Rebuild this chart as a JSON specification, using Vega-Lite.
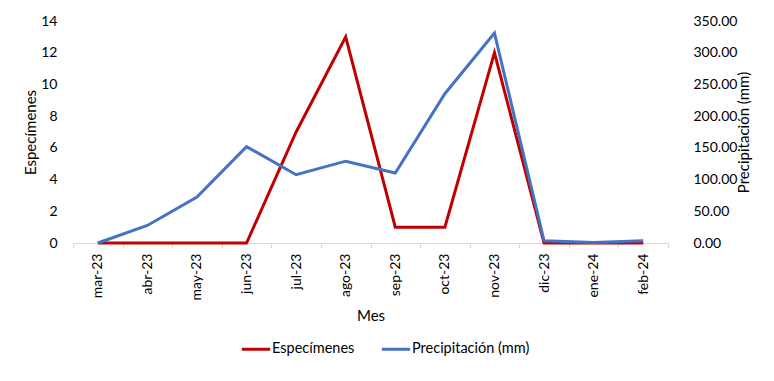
{
  "$schema": "https://vega.github.io/schema/vega-lite/v6.json",
  "width": 595,
  "height": 222,
  "autosize": "none",
  "padding": {"left": 73, "top": 21, "right": 106, "bottom": 138},
  "background": "white",
  "config": {
    "view": {"stroke": null},
    "font": "Lato",
    "axis": {"labelFont": "Lato", "titleFont": "Lato", "labelColor": "#000000", "titleColor": "#000000", "labelFontSize": 14, "titleFontSize": 15, "titleFontWeight": "normal", "grid": false}
  },
  "data": {
    "values": [
      {"Mes": "mar-23", "Especimenes": 0, "Precipitacion": 0},
      {"Mes": "abr-23", "Especimenes": 0, "Precipitacion": 27.7},
      {"Mes": "may-23", "Especimenes": 0, "Precipitacion": 72.5},
      {"Mes": "jun-23", "Especimenes": 0, "Precipitacion": 152},
      {"Mes": "jul-23", "Especimenes": 7, "Precipitacion": 107.7},
      {"Mes": "ago-23", "Especimenes": 13, "Precipitacion": 129},
      {"Mes": "sep-23", "Especimenes": 1, "Precipitacion": 110.4},
      {"Mes": "oct-23", "Especimenes": 1, "Precipitacion": 235.4},
      {"Mes": "nov-23", "Especimenes": 12, "Precipitacion": 331},
      {"Mes": "dic-23", "Especimenes": 0, "Precipitacion": 3.5},
      {"Mes": "ene-24", "Especimenes": 0, "Precipitacion": 0.8},
      {"Mes": "feb-24", "Especimenes": 0, "Precipitacion": 3.5}
    ]
  },
  "encoding": {
    "x": {
      "field": "Mes",
      "type": "ordinal",
      "sort": null,
      "scale": {"type": "band", "paddingInner": 0, "paddingOuter": 0},
      "axis": {
        "title": "Mes",
        "labelAngle": -90,
        "tickBand": "extent",
        "domainColor": "#D9D9D9",
        "tickColor": "#D9D9D9",
        "tickSize": 5,
        "labelPadding": 5,
        "titlePadding": 9,
        "domainWidth": 1
      }
    }
  },
  "layer": [
    {
      "mark": {"type": "line", "strokeWidth": 3, "strokeJoin": "miter"},
      "encoding": {
        "y": {
          "field": "Especimenes",
          "type": "quantitative",
          "scale": {"domain": [0, 14]},
          "axis": {"title": "Especímenes", "values": [0, 2, 4, 6, 8, 10, 12, 14], "domain": false, "ticks": false, "labelPadding": 16, "titlePadding": 2}
        },
        "color": {
          "datum": "Especímenes",
          "scale": {"domain": ["Especímenes", "Precipitación (mm)"], "range": ["#C00000", "#4472C4"]},
          "legend": {
            "title": null,
            "orient": "none",
            "direction": "horizontal",
            "legendX": 167,
            "legendY": 312,
            "symbolType": "stroke",
            "symbolStrokeWidth": 3,
            "symbolSize": 800,
            "labelFont": "Lato",
            "labelFontSize": 14.5,
            "labelColor": "#000000",
            "labelOffset": 0,
            "columnPadding": 20
          }
        }
      }
    },
    {
      "mark": {"type": "line", "strokeWidth": 3, "strokeJoin": "miter"},
      "encoding": {
        "y": {
          "field": "Precipitacion",
          "type": "quantitative",
          "scale": {"domain": [0, 350]},
          "axis": {"orient": "right", "title": "Precipitación (mm)", "titleAngle": -90, "titleBaseline": "top", "values": [0, 50, 100, 150, 200, 250, 300, 350], "format": ".2f", "domain": false, "ticks": false, "labelPadding": 25, "titlePadding": 0}
        },
        "color": {"datum": "Precipitación (mm)"}
      }
    }
  ],
  "resolve": {"scale": {"y": "independent"}}
}
